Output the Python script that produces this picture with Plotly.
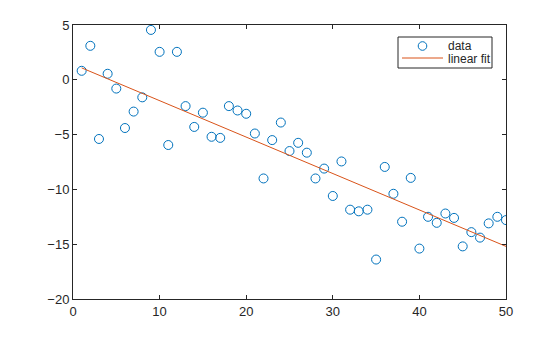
import numpy as np
import plotly.graph_objects as go

x_vals = list(range(1, 51))
y_vals = [0.82, 3.1, -5.4, 0.55, -0.8, -4.4, -2.9, -1.6, 4.55, 2.55,
          -5.95, 2.55, -2.4, -4.3, -3.0, -5.2, -5.3, -2.4, -2.8, -3.1,
          -4.9, -9.0, -5.5, -3.9, -6.5, -5.75, -6.65, -9.0, -8.1, -10.6,
          -7.45, -11.85, -12.0, -11.85, -16.4, -7.95, -10.4, -12.95, -8.95, -15.4,
          -12.5, -13.05, -12.2, -12.6, -15.2, -13.9, -14.4, -13.1, -12.5, -12.8]
x_ticks = [0, 10, 20, 30, 40, 50]
y_ticks = [-20, -15, -10, -5, 0, 5]
legend_labels = ["data", "linear fit"]

BLUE = "#0072BD"
ORANGE = "#D95319"
INK = "#262626"

coef = np.polyfit(x_vals, y_vals, 1)
fit_y = list(np.polyval(coef, x_vals))

fig = go.Figure()
fig.add_trace(go.Scatter(x=x_vals, y=y_vals, mode="markers", name=legend_labels[0],
                         marker=dict(symbol="circle-open", size=9, color=BLUE,
                                     line=dict(width=1, color=BLUE))))
fig.add_trace(go.Scatter(x=x_vals, y=fit_y, mode="lines", name=legend_labels[1],
                         line=dict(color=ORANGE, width=1)))

axis_common = dict(showgrid=False, zeroline=False, showline=True, linecolor=INK,
                   linewidth=1, mirror="allticks", ticks="inside", ticklen=4,
                   tickcolor=INK, tickfont=dict(family="Liberation Sans, Arial", size=13, color=INK))
fig.update_xaxes(range=[0, 50], tickvals=x_ticks, **axis_common)
fig.update_yaxes(range=[-20, 5], tickvals=y_ticks, **axis_common)

# compact MATLAB-style legend box (paper coordinates of the plot area)
L, T, W, H = 73, 25, 433, 274
def px(x): return (x - L) / W
def py(y): return (T + H - y) / H

shapes = [
    dict(type="rect", xref="paper", yref="paper", x0=px(398), x1=px(492), y0=py(68), y1=py(37),
         line=dict(color=INK, width=1), fillcolor="white", layer="above"),
    dict(type="circle", xref="paper", yref="paper", xsizemode="pixel", ysizemode="pixel",
         xanchor=px(422.5), yanchor=py(46), x0=-4.3, x1=4.3, y0=-4.3, y1=4.3,
         line=dict(color=BLUE, width=1), layer="above"),
    dict(type="line", xref="paper", yref="paper", x0=px(402), x1=px(443), y0=py(58), y1=py(58),
         line=dict(color=ORANGE, width=1), layer="above"),
]
annotations = [
    dict(xref="paper", yref="paper", x=px(446), y=py(45.5), text=legend_labels[0], showarrow=False,
         xanchor="left", yanchor="middle", font=dict(size=12, color=INK)),
    dict(xref="paper", yref="paper", x=px(446), y=py(59), text=legend_labels[1], showarrow=False,
         xanchor="left", yanchor="middle", font=dict(size=12, color=INK)),
]

fig.update_layout(
    width=560, height=337,
    margin=dict(l=L, r=560 - L - W, t=T, b=337 - T - H),
    plot_bgcolor="white", paper_bgcolor="white",
    font=dict(family="Liberation Sans, Arial", size=12, color=INK),
    showlegend=False,
    shapes=shapes, annotations=annotations,
)
fig.write_html("out.html")
